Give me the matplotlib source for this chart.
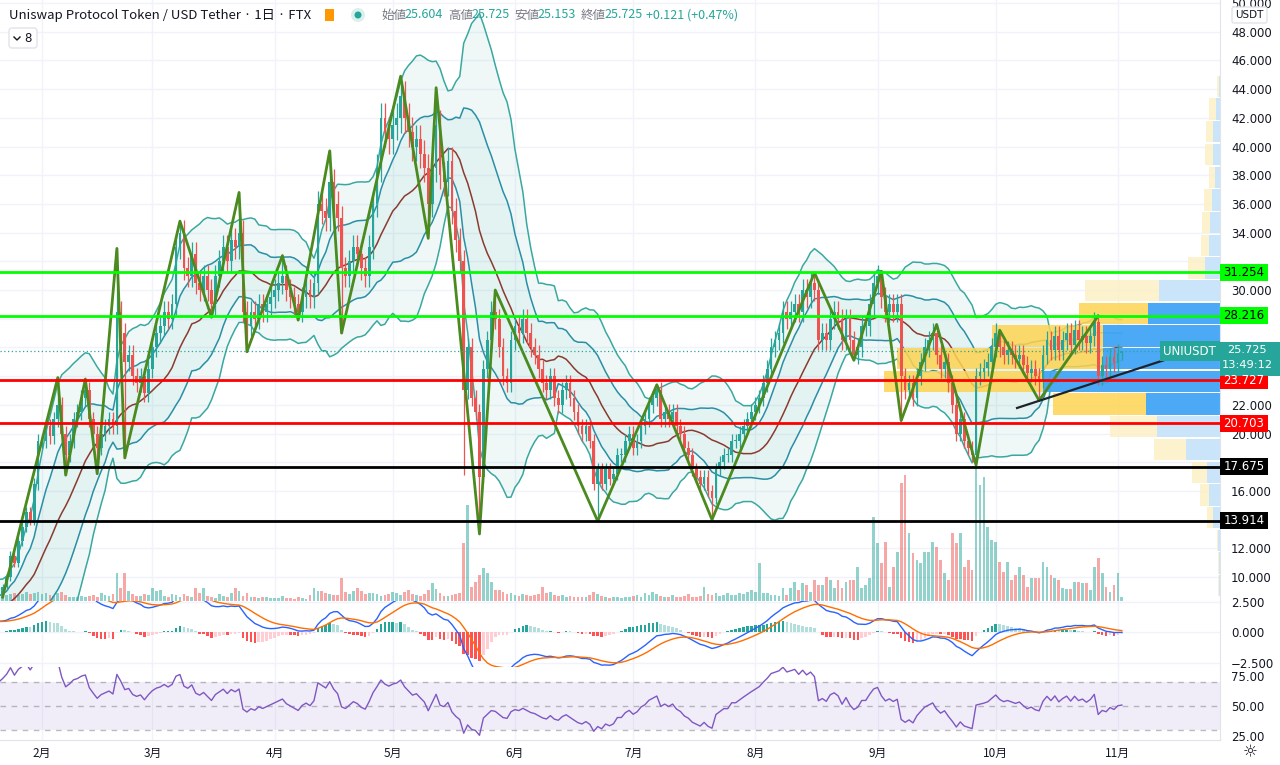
import numpy as np
import pandas as pd
import matplotlib
matplotlib.use("Agg")
import matplotlib.pyplot as plt
from matplotlib.patches import Rectangle, Circle, FancyBboxPatch
from matplotlib.lines import Line2D
from matplotlib.transforms import IdentityTransform

W, H = 1280, 765
RIGHT = 1220            # right edge of the panes (px)
CJK = ["Noto Sans CJK JP", "DejaVu Sans"]

UP, DOWN = "#26a69a", "#ef5350"
TXT, GREY = "#131722", "#787b86"
GRID, BORDER = "#f0f3fa", "#e0e3eb"

# ---------------------------------------------------------------- data
start = pd.Timestamp("2021-01-21")

# Dec 27 2020 - Jan 20 2021, only used to warm up the indicators
close_pre = [4.5, 4.6, 4.4, 4.6, 4.8,
             4.8, 5.0, 5.6, 5.5, 6.3, 6.9, 7.0, 7.3, 7.8, 8.5,
             7.5, 7.0, 8.3, 8.5, 8.0, 8.6, 8.8, 8.6, 8.4, 8.3]

# daily closes from Jan 21 2021 to Nov 2 2021
close = [
    8.8, 9.3, 10.0, 11.5, 11.0, 12.5, 13.5, 14.5, 14.0, 16.5,
    19.5, 19.5, 20.5, 19.8, 21.0, 22.0, 20.0, 18.5, 19.5, 21.0,
    21.5, 22.5, 23.0, 21.0, 20.0, 19.0, 20.0, 20.5, 21.0, 20.5,
    28.5, 27.0, 25.0, 25.5, 24.0, 23.5, 24.0, 22.8, 24.5, 26.0,
    27.0, 27.5, 28.5, 28.0, 29.0, 33.0, 34.0, 31.5, 31.0, 32.5,
    30.5, 30.0, 31.0, 30.0, 29.0, 31.0, 32.0, 33.0, 32.0, 33.5,
    33.0, 34.0, 28.5, 27.5, 28.5, 28.0, 29.0, 28.5, 29.0, 29.5,
    30.0, 30.5, 31.0, 30.0, 29.5, 29.0, 28.5, 29.5, 30.0, 29.5,
    30.5, 36.0, 35.5, 35.0, 37.5, 36.0, 35.0, 31.5, 31.0, 32.0,
    33.0, 32.5, 31.5, 31.0, 33.0, 36.0, 38.5, 42.0, 41.0, 40.5,
    41.5, 42.0, 43.5, 42.0, 41.0, 40.0, 40.5, 39.5, 38.5, 36.0,
    38.5, 41.5, 38.0, 37.5, 39.0, 35.5, 33.5, 32.0, 23.0, 26.0,
    22.5, 21.5, 17.0, 24.5, 26.5, 28.5, 28.0, 26.0, 24.0, 23.5,
    26.5, 27.5, 27.0, 28.0, 27.0, 26.0, 25.5, 24.5, 23.5, 23.0,
    24.0, 22.5, 22.0, 23.0, 23.5, 22.5, 21.5, 20.5, 20.0, 20.5,
    19.5, 16.5, 17.5, 16.5, 17.5, 16.8, 17.2, 18.5, 18.5, 19.5,
    20.0, 19.0, 19.5, 20.5, 21.0, 22.0, 22.5, 23.0, 21.0, 21.5,
    21.0, 21.5, 20.5, 20.0, 19.0, 18.5, 17.5, 17.0, 16.5, 17.0,
    16.0, 15.5, 17.5, 18.0, 18.5, 18.5, 19.5, 19.5, 20.0, 20.5,
    21.0, 21.5, 22.0, 22.5, 23.5, 24.5, 26.0, 26.5, 27.0, 28.5,
    28.0, 28.5, 29.0, 28.5, 30.0, 29.5, 30.5, 30.0, 26.5, 27.0,
    26.5, 28.0, 28.5, 28.0, 26.5, 28.0, 26.5, 25.5, 26.0, 27.5,
    27.5, 29.0, 30.5, 31.0, 29.5, 28.5, 29.0, 28.5, 29.0, 24.0,
    23.0, 23.5, 22.5, 24.0, 25.0, 26.0, 26.5, 27.0, 25.5, 24.5,
    25.0, 23.5, 22.0, 20.0, 21.0, 19.5, 19.0, 18.5, 24.0, 24.3,
    24.6, 25.0, 26.0, 27.0, 26.0, 25.5, 25.8, 25.5, 25.2, 25.5,
    24.8, 24.2, 24.5, 24.0, 23.8, 25.5, 26.5, 25.8, 26.8, 25.8,
    26.5, 27.0, 26.2, 27.2, 26.5, 26.8, 26.3, 26.8, 27.8, 24.0,
    24.8, 24.5, 25.3, 24.9, 25.604, 25.725,
]
last_high, last_low = 25.725, 25.153

volume = [
    8, 5, 6, 7, 8, 6, 7, 9, 7, 8,
    9, 7, 8, 6, 5, 8, 9, 6, 4, 4,
    4, 5, 4, 5, 6, 4, 8, 6, 5, 7,
    28, 13, 28, 10, 7, 5, 5, 7, 6, 13,
    10, 11, 5, 4, 7, 6, 4, 7, 5, 4,
    13, 8, 13, 5, 4, 3, 7, 5, 4, 8,
    13, 10, 5, 8, 4, 4, 3, 4, 4, 3,
    3, 3, 5, 3, 3, 2, 4, 3, 2, 6,
    13, 10, 10, 8, 7, 6, 6, 23, 9, 7,
    10, 13, 10, 7, 8, 8, 7, 5, 6, 7,
    9, 8, 6, 9, 11, 7, 6, 5, 7, 11,
    18, 12, 8, 5, 5, 6, 7, 8, 58, 96,
    14, 19, 26, 33, 28, 19, 11, 11, 9, 7,
    8, 6, 5, 7, 6, 5, 6, 7, 14, 8,
    9, 6, 5, 6, 4, 5, 4, 4, 4, 4,
    6, 9, 7, 5, 4, 3, 4, 4, 3, 4,
    4, 5, 6, 4, 8, 6, 9, 7, 5, 4,
    4, 6, 4, 4, 5, 7, 4, 4, 5, 14,
    7, 6, 8, 5, 6, 8, 6, 6, 8, 7,
    9, 11, 9, 38, 8, 8, 6, 6, 5, 13,
    6, 13, 19, 11, 18, 16, 9, 21, 16, 16,
    24, 21, 13, 21, 13, 19, 21, 21, 34, 13,
    16, 23, 84, 58, 38, 59, 14, 34, 49, 118,
    126, 68, 48, 41, 38, 49, 49, 59, 54, 41,
    28, 21, 68, 58, 68, 34, 41, 31, 134, 116,
    124, 74, 61, 59, 39, 29, 39, 21, 26, 34,
    26, 14, 23, 23, 23, 39, 34, 26, 23, 21,
    13, 12, 12, 19, 19, 18, 18, 11, 34, 43,
    28, 14, 9, 16, 28, 4,
]
VOL_FULL = 601          # volume that would fill the whole price pane

# zigzag pivots (day index from Jan 21, price)
zz_idx = [1, 15, 17, 22, 25, 30, 32, 46, 54, 61, 63, 72, 76, 84, 87, 102,
          109, 111, 122, 126, 152, 167, 181, 207, 217, 224, 229, 238, 248,
          254, 264, 279]
zz_px = [8.6, 23.9, 17.1, 23.8, 17.2, 32.9, 18.3, 34.8, 28.1, 36.8, 25.7,
         32.4, 27.9, 39.7, 27.0, 44.9, 33.6, 44.1, 13.0, 30.0, 13.9, 23.4,
         14.0, 31.2, 25.1, 31.3, 20.9, 27.6, 17.8, 27.2, 22.3, 28.2]
extra_low = {118: 17.1}
WICK = 0.025

levels = [(31.254, "#00ff00", "black"), (28.216, "#00ff00", "black"),
          (23.727, "#ff0000", "white"), (20.703, "#ff0000", "white"),
          (17.675, "#000000", "white"), (13.914, "#000000", "white")]
last_price = 25.725

# price ticks that stay hidden behind the level boxes
price_ticks = [10, 12, 16, 20, 22, 30, 34, 36, 38, 40, 42, 44, 46, 48, 50]

trend_idx = [258.4, 309.9]
trend_px = [21.78, 26.38]

# volume profile, rows from 8.61 to 44.98
vp_lo, vp_hi = 8.61, 44.98
vp_up = [1.5, 1.5, 2, 7, 11, 13, 34, 63, 74, 177, 117, 117, 72, 61, 15, 11,
         10, 8, 5, 7, 7, 4, 1]
vp_dn = [0.5, 0.5, 1, 6, 9, 15, 32, 47, 93, 159, 206, 111, 69, 74, 17, 8, 8,
         8, 6, 8, 7, 7, 2]
vp_va = (8, 12)

months = ["2月", "3月", "4月", "5月", "6月", "7月", "8月", "9月", "10月", "11月"]
month_pos = [(pd.Timestamp(2021, m, 1) - start).days for m in range(2, 12)]

# ---------------------------------------------------------------- derived
n = len(close)
npre = len(close_pre)
c = np.array(close)
o = np.r_[close_pre[-1], c[:-1]]
hi = np.maximum(o, c) * (1 + WICK)
lo = np.minimum(o, c) * (1 - WICK)
for i, p in zip(zz_idx, zz_px):
    if p >= max(o[i], c[i]):
        hi[i] = p
    else:
        lo[i] = p
for i, p in extra_low.items():
    lo[i] = p
hi[-1], lo[-1] = last_high, last_low
x = np.arange(n)

c_all = pd.Series(close_pre + close, dtype=float)
x_all = np.arange(-npre, n)
basis = c_all.rolling(20).mean()
sd = c_all.rolling(20).std(ddof=0)
ema12 = c_all.ewm(span=12, adjust=False).mean()
ema26 = c_all.ewm(span=26, adjust=False).mean()
macd = ema12 - ema26
signal = macd.ewm(span=9, adjust=False).mean()
hist = macd - signal
delta = c_all.diff()
gain = delta.clip(lower=0).ewm(alpha=1 / 14, adjust=False).mean()
loss = (-delta.clip(upper=0)).ewm(alpha=1 / 14, adjust=False).mean()
rsi = 100 - 100 / (1 + gain / loss)

# ---------------------------------------------------------------- figure
def fy(y):
    return 1 - y / H

fig = plt.figure(figsize=(W / 100, H / 100), dpi=100)
ax = fig.add_axes([0, fy(601), RIGHT / W, 601 / H])
axm = fig.add_axes([0, fy(667), RIGHT / W, 66 / H], sharex=ax)
axr = fig.add_axes([0, fy(740), RIGHT / W, 73 / H], sharex=ax)

XMIN, XMAX = 0.34, 309.9
for a in (ax, axm, axr):
    a.set_xlim(XMIN, XMAX)
    a.set_xticks(month_pos)
    a.grid(True, color=GRID, lw=1)
    a.set_axisbelow(True)
    a.yaxis.tick_right()
    a.tick_params(axis="both", length=0, labelsize=8.5, colors=TXT, pad=8)
    for s in ("left", "top"):
        a.spines[s].set_visible(False)
    for s in ("right", "bottom"):
        a.spines[s].set_color(BORDER)
ax.tick_params(labelbottom=False)
axm.tick_params(labelbottom=False)

# --- price pane
ax.set_ylim(8.33, 50.21)
ax.set_yticks(np.arange(10, 51, 2), minor=True)
ax.set_yticks(price_ticks)
ax.set_yticklabels([f"{t:.3f}" for t in price_ticks])
ax.tick_params(axis="y", which="minor", length=0)
ax.grid(True, which="minor", axis="y", color=GRID, lw=1)

up2, lo2 = basis + 2 * sd, basis - 2 * sd
up1, lo1 = basis + sd, basis - sd
ax.fill_between(x_all, lo2, up2, color=UP, alpha=0.07, lw=0, zorder=1)
ax.fill_between(x_all, lo1, up1, color=UP, alpha=0.06, lw=0, zorder=1)
ax.plot(x_all, up2, color="#3aa8a0", lw=1.1, zorder=1.5)
ax.plot(x_all, lo2, color="#3aa8a0", lw=1.1, zorder=1.5)
ax.plot(x_all, up1, color="#2a8fa6", lw=1.1, zorder=1.5)
ax.plot(x_all, lo1, color="#2a8fa6", lw=1.1, zorder=1.5)
ax.plot(x_all, basis, color="#8b3a2f", lw=1.1, zorder=1.6)

is_up = c >= o
vcol = np.where(is_up, UP, DOWN)
ax.bar(x, np.array(volume) / VOL_FULL, bottom=0, width=0.7, color=vcol,
       alpha=0.5, transform=ax.get_xaxis_transform(), zorder=1.2)

# volume profile, anchored at the right edge
step = (vp_hi - vp_lo) / len(vp_up)
rows = vp_lo + step * (np.arange(len(vp_up)) + 0.5)
upf = np.array(vp_up) / RIGHT
dnf = np.array(vp_dn) / RIGHT
k = np.arange(len(vp_up))
in_va = (k >= vp_va[0]) & (k <= vp_va[1])
blue = np.where(in_va, "#42a5f5", "#c8e4fa")
yell = np.where(in_va, "#fdd451", "#fdf0c6")
trf = ax.get_yaxis_transform()
ax.barh(rows, upf, left=1 - upf, height=step * 0.94, color=blue,
        transform=trf, zorder=2, alpha=0.95)
ax.barh(rows, dnf, left=1 - upf - dnf, height=step * 0.94, color=yell,
        transform=trf, zorder=2, alpha=0.85)

ccol = np.where(is_up, UP, DOWN)
ax.vlines(x, lo, hi, colors=ccol, lw=0.9, zorder=3)
body_lo = np.minimum(o, c)
body_h = np.maximum(np.abs(c - o), 0.06)
ax.bar(x, body_h, bottom=body_lo, width=0.7, color=ccol, zorder=3)

ax.plot(zz_idx, zz_px, color="#4a8a1f", lw=2, zorder=4)

ax.axhline(last_price, color=UP, lw=0.9, ls=(0, (1, 2)), zorder=4)
for lvl, col, _ in levels:
    ax.axhline(lvl, color=col, lw=2, zorder=5)
ax.plot(trend_idx, trend_px, color="#1e222d", lw=1.6, zorder=5)

# right axis labels
px_unit = 601 / (50.21 - 8.33)
for lvl, col, tcol in levels:
    hh = 17 / px_unit
    ax.add_patch(Rectangle((1.0, lvl - hh / 2), 48 / RIGHT, hh, transform=trf,
                           fc=col, ec="none", clip_on=False, zorder=10))
    ax.text(1 + 24 / RIGHT, lvl, f"{lvl:.3f}", transform=trf, ha="center",
            va="center", fontsize=8.5, color=tcol, zorder=11, clip_on=False)
top, bot = last_price + 9 / px_unit, last_price - 25 / px_unit
ax.add_patch(Rectangle((1.0, bot), 60 / RIGHT, top - bot, transform=trf,
                       fc=UP, ec="none", clip_on=False, zorder=10))
ax.text(1 + 27 / RIGHT, last_price + 1 / px_unit, f"{last_price:.3f}",
        transform=trf, ha="center", va="center", fontsize=8.2, color="white",
        zorder=11)
ax.text(1 + 27 / RIGHT, last_price - 14 / px_unit, "13:49:12", transform=trf,
        ha="center", va="center", fontsize=8.2, color="white", zorder=11)
ax.text(1 - 4 / RIGHT, last_price, "UNIUSDT", transform=trf, ha="right",
        va="center", fontsize=8.5, color="white", zorder=11,
        bbox=dict(boxstyle="square,pad=0.3", fc=UP, ec="none"))

# --- MACD pane
axm.set_ylim(-2.83, 2.58)
axm.set_yticks([2.5, 0, -2.5])
axm.set_yticklabels(["2.500", "0.000", "\u22122.500"])
prev = hist.shift(1).fillna(0)
hcol = np.where(hist >= 0, np.where(hist >= prev, "#26a69a", "#b2dfdb"),
                np.where(hist < prev, "#ff5252", "#ffcdd2"))
axm.bar(x_all, hist, width=0.65, color=hcol, zorder=2)
axm.plot(x_all, macd, color="#2962ff", lw=1, zorder=3)
axm.plot(x_all, signal, color="#ff6d00", lw=1, zorder=3)

# --- RSI pane
axr.set_ylim(22.1, 82)
axr.set_yticks([75, 50, 25])
axr.set_yticklabels(["75.00", "50.00", "25.00"])
axr.grid(False, axis="y")
axr.axhspan(30, 70, color="#7e57c2", alpha=0.1, lw=0, zorder=1)
for lv in (70, 50, 30):
    axr.axhline(lv, color=GREY, alpha=0.5, lw=1, ls=(0, (4, 4)), zorder=1.5)
axr.plot(x_all, rsi, color="#7e57c2", lw=1, zorder=3)
axr.set_xticklabels(months)
for lab in axr.get_xticklabels():
    lab.set_family(CJK)
axr.tick_params(axis="x", pad=5)

# --- header
fig.text(9 / W, fy(15), "Uniswap Protocol Token / USD Tether · 1日 · FTX",
         fontsize=9.5, color=TXT, va="center", family=CJK)
ident = IdentityTransform()
fig.add_artist(Rectangle((325, H - 21), 9, 12, fc="#ff9800", ec="none",
                         transform=ident))
fig.add_artist(Circle((358, H - 15), 7, fc="#d9f0ed", ec="none", transform=ident))
fig.add_artist(Circle((358, H - 15), 3.5, fc=UP, ec="none", transform=ident))
pieces = [(381, "始値", GREY), (404, "25.604", UP), (448, "高値", GREY),
          (471, "25.725", UP), (514, "安値", GREY), (537, "25.153", UP),
          (581, "終値", GREY), (604, "25.725", UP), (646, "+0.121 (+0.47%)", UP)]
for px0, s, col in pieces:
    fig.text(px0 / W, fy(15), s, fontsize=9, color=col, va="center", family=CJK)

fig.add_artist(FancyBboxPatch((9, H - 48), 28, 20,
                              boxstyle="round,pad=0,rounding_size=3",
                              fc="white", ec=BORDER, transform=ident))
fig.add_artist(Line2D([14, 17, 20], [H - 37, H - 40, H - 37], color=TXT,
                      lw=1, transform=ident))
fig.text(28 / W, fy(38), "8", fontsize=8.5, color=TXT, va="center", ha="center")

fig.add_artist(FancyBboxPatch((1232, H - 23), 35, 16,
                              boxstyle="round,pad=0,rounding_size=2",
                              fc="white", ec=BORDER, transform=ident))
fig.text(1249.5 / W, fy(15), "USDT", fontsize=7.5, color=TXT, va="center",
         ha="center")
fig.text(1250 / W, fy(752), "\u263c", fontsize=12, color=TXT, va="center",
         ha="center")

fig.savefig("out.png", dpi=100)
